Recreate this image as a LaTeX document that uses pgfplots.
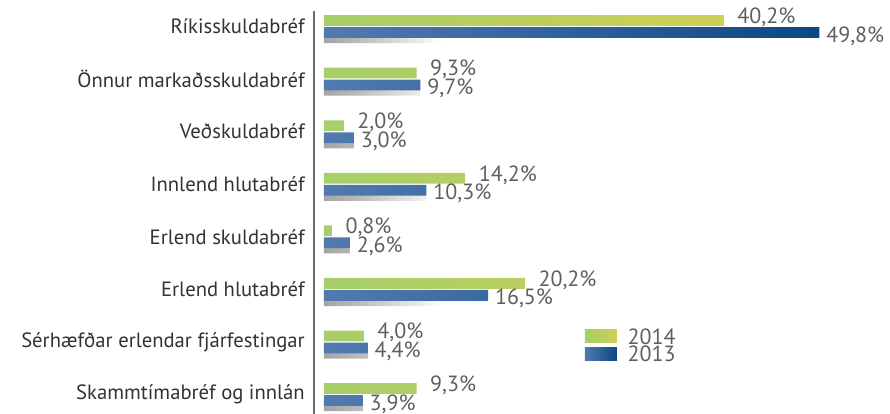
\documentclass[border=0pt]{standalone}
\usepackage{pgfplots}
\pgfplotsset{compat=1.18}
\usepackage{fontspec}
\setmainfont{PT Sans}
\definecolor{gL}{RGB}{166,206,106}
\definecolor{gR}{RGB}{206,208,84}
\definecolor{bL}{RGB}{82,122,176}
\definecolor{bR}{RGB}{10,72,132}
\definecolor{axgray}{RGB}{105,105,105}
\definecolor{catgray}{RGB}{50,50,50}
\definecolor{valgray}{RGB}{95,95,95}
\definecolor{shgray}{RGB}{165,165,165}
\pgfdeclarehorizontalshading{shfade}{100bp}{color(0bp)=(shgray); color(25bp)=(shgray); color(28bp)=(shgray!80); color(37bp)=(white); color(100bp)=(white)}
\begin{document}
\begin{tikzpicture}
\begin{axis}[
  at={(235.5pt,0pt)}, anchor=south west,
  scale only axis, width=432pt, height=302.25pt,
  xmin=-1.005, xmax=56.9, ymin=-0.295, ymax=7.37,
  y dir=reverse,
  clip=false,
  axis x line=none,
  axis y line*=left,
  y axis line style={draw=axgray, line width=2pt, -},
  ytick={0,...,7},
  yticklabels={Ríkisskuldabréf, Önnur markaðsskuldabréf, Veðskuldabréf, Innlend hlutabréf, Erlend skuldabréf, Erlend hlutabréf, Sérhæfðar erlendar fjárfestingar, Skammtímabréf og innlán},
  major tick length=0pt,
  yticklabel style={font=\fontsize{15.5}{18}\selectfont, text=catgray, inner sep=0pt, anchor=east, xshift=-6.75pt},
  /pgf/number format/assume math mode=true,
  legend style={at={(0.470,0.213)}, anchor=north west, draw=none, fill=none,
    font=\fontsize{16.5}{16}\selectfont, text=valgray, inner sep=0pt, row sep=1.5pt,
    nodes={inner xsep=0pt, inner ysep=0pt, text depth=0pt}},
  legend cell align=left,
]
% soft shadow under the 2013 bars
\addplot[xbar, forget plot, bar width=5pt, bar shift=-10pt, draw=none, shading=shfade]
  coordinates {(49.8,0) (9.7,1) (3.0,2) (10.3,3) (2.6,4) (16.5,5) (4.4,6) (3.9,7)};
\addplot[xbar, bar width=8.1pt, bar shift=4.5pt, draw=none, left color=gL, right color=gR,
  nodes near coords={\pgfmathprintnumber[use comma,fixed,fixed zerofill,precision=1]{\pgfplotspointmeta}\%},
  nodes near coords style={font=\fontsize{16.5}{16}\selectfont, text=valgray, inner sep=0pt, anchor=west, xshift=10pt, yshift=7pt},
  legend image code/.code={\shade[left color=gL, right color=gR] (0pt,-4.9pt) rectangle (24pt,4.9pt);}
] coordinates {(40.2,0) (9.3,1) (2.0,2) (14.2,3) (0.8,4) (20.2,5) (4.0,6) (9.3,7)};
\addlegendentry{\hspace{8pt}2014}
\addplot[xbar, bar width=8.1pt, bar shift=-4.5pt, draw=none, left color=bL, right color=bR,
  nodes near coords={\pgfmathprintnumber[use comma,fixed,fixed zerofill,precision=1]{\pgfplotspointmeta}\%},
  nodes near coords style={font=\fontsize{16.5}{16}\selectfont, text=valgray, inner sep=0pt, anchor=west, xshift=5pt, yshift=-7pt},
  legend image code/.code={\shade[left color=bL, right color=bR] (0pt,-4.9pt) rectangle (24pt,4.9pt);}
] coordinates {(49.8,0) (9.7,1) (3.0,2) (10.3,3) (2.6,4) (16.5,5) (4.4,6) (3.9,7)};
\addlegendentry{\hspace{8pt}2013}
\end{axis}
\pgfresetboundingbox
\path (0pt,0pt) rectangle (667.5pt,310.5pt);
\end{tikzpicture}
\end{document}
